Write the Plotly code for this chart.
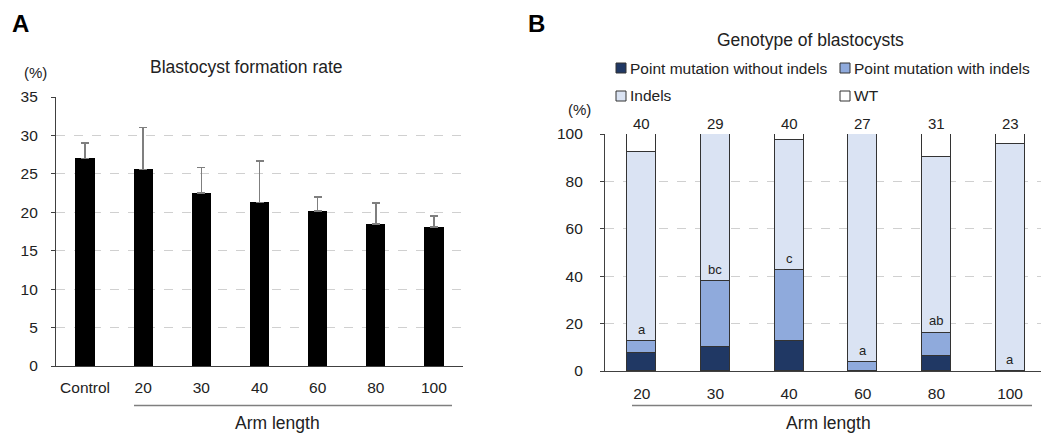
import plotly.graph_objects as go

# ---------------- Data ----------------
# Panel A
a_categories = ["Control", "20", "30", "40", "60", "80", "100"]
a_rate = [27.0, 25.6, 22.5, 21.3, 20.2, 18.5, 18.1]
a_err_upper = [2.0, 5.4, 3.3, 5.4, 1.8, 2.7, 1.4]

# Panel B
b_categories = ["20", "30", "40", "60", "80", "100"]
b_n = [40, 29, 40, 27, 31, 23]
pm_without = [7.5, 10.3, 12.5, 0.0, 6.5, 0.0]
pm_with = [5.0, 27.6, 30.0, 3.7, 9.7, 0.0]
indels = [80.0, 62.1, 55.0, 96.3, 74.1, 95.7]
wt = [7.5, 0.0, 2.5, 0.0, 9.7, 4.3]
b_letters = ["a", "bc", "c", "a", "ab", "a"]

series_names = ["Point mutation without indels", "Point mutation with indels", "Indels", "WT"]
series_colors = ["#203864", "#8faadc", "#dae3f3", "#ffffff"]

FONT = "Liberation Sans, Arial, sans-serif"
TXT = "#222222"
W, H = 1041, 433

def px(x):
    return x / W

def py(y):
    return (H - y) / H

fig = go.Figure()

# Panel A bars
fig.add_trace(go.Bar(
    x=a_categories, y=a_rate, xaxis="x", yaxis="y",
    marker=dict(color="#000000", line=dict(width=0)),
    width=0.33,
    error_y=dict(type="data", symmetric=False, array=a_err_upper,
                 arrayminus=[0] * len(a_rate), color="#7f7f7f",
                 thickness=1.5, width=4),
    showlegend=False,
))

# Panel B stacked bars
series_vals = [pm_without, pm_with, indels, wt]
for name, vals, col in zip(series_names, series_vals, series_colors):
    fig.add_trace(go.Bar(
        x=b_categories, y=vals, name=name, xaxis="x2", yaxis="y2",
        marker=dict(color=col, line=dict(color="#333333", width=1)),
        width=0.394, showlegend=False,
    ))

annotations = []
# n labels above bars (category index positions)
for i, n in enumerate(b_n):
    annotations.append(dict(x=i, y=100, xref="x2", yref="y2", text=str(n),
                            showarrow=False, yanchor="middle", yshift=10,
                            font=dict(size=15, color=TXT, family=FONT)))
# letters
for i, (lo, mid, l) in enumerate(zip(pm_without, pm_with, b_letters)):
    annotations.append(dict(x=i, y=lo + mid, xref="x2", yref="y2", text=l,
                            showarrow=False, yanchor="middle", yshift=12,
                            font=dict(size=13, color=TXT, family=FONT)))

def txt(x, y, t, size, bold=False, xanchor="center"):
    return dict(x=px(x), y=py(y), xref="paper", yref="paper",
                text=("<b>%s</b>" % t) if bold else t, showarrow=False,
                xanchor=xanchor, yanchor="middle",
                font=dict(size=size, color="#000000" if bold else TXT, family=FONT))

annotations += [
    txt(20.5, 24, "A", 24, bold=True),
    txt(536, 24, "B", 24, bold=True),
    txt(246, 67, "Blastocyst formation rate", 17.5),
    txt(810, 40, "Genotype of blastocysts", 17.5),
    txt(35, 73, "(%)", 15),
    txt(579, 109, "(%)", 15),
    txt(277, 423, "Arm length", 17.5),
    txt(828, 423, "Arm length", 17.5),
]

shapes = [
    dict(type="line", xref="paper", yref="paper", x0=px(134), x1=px(452),
         y0=py(405.5), y1=py(405.5), line=dict(color="#7f7f7f", width=1.5)),
    dict(type="line", xref="paper", yref="paper", x0=px(632), x1=px(1032),
         y0=py(405.5), y1=py(405.5), line=dict(color="#7f7f7f", width=1.5)),
]

# Legend (drawn as key squares + labels)
legend_pos = [(616, 68), (840, 68), (616, 96), (840, 96)]
for (lx, ly), name, col in zip(legend_pos, series_names, series_colors):
    shapes.append(dict(type="rect", xref="paper", yref="paper",
                       x0=px(lx), x1=px(lx + 10), y0=py(ly + 5), y1=py(ly - 5),
                       fillcolor=col, line=dict(color="#333333", width=1)))
    annotations.append(dict(x=px(lx + 12), y=py(ly), xref="paper", yref="paper",
                            text=name, showarrow=False, xanchor="left", yanchor="middle",
                            font=dict(size=15.5, color=TXT, family=FONT)))

axis_common = dict(showline=True, linecolor="#404040", linewidth=1.2,
                   zeroline=False, automargin=False,
                   tickfont=dict(size=15.5, color=TXT, family=FONT))

fig.update_layout(
    width=W, height=H, autosize=False,
    margin=dict(l=0, r=0, t=0, b=0, pad=0, autoexpand=False),
    paper_bgcolor="#ffffff", plot_bgcolor="#ffffff",
    barmode="stack", bargap=0, showlegend=False,
    font=dict(family=FONT, color=TXT),
    xaxis=dict(domain=[px(56), px(463)], anchor="y", type="category",
               categoryorder="array", categoryarray=a_categories,
               range=[-0.5, 6.5], ticks="", ticklabelstandoff=7, **axis_common),
    yaxis=dict(domain=[py(366), py(97)], anchor="x", range=[0, 35], dtick=5,
               ticks="outside", ticklen=4, tickcolor="#404040",
               ticklabelstandoff=10,
               showgrid=True, gridcolor="#d0d0d0", griddash="dash", gridwidth=1,
               **axis_common),
    xaxis2=dict(domain=[px(605), 1.0], anchor="y2", type="category",
                categoryorder="array", categoryarray=b_categories,
                range=[-0.5, 5.42], ticks="", ticklabelstandoff=8, **axis_common),
    yaxis2=dict(domain=[py(371), py(134)], anchor="x2", range=[0, 100], dtick=20,
                ticks="outside", ticklen=4, tickcolor="#404040",
                ticklabelstandoff=14,
                showgrid=True, gridcolor="#d0d0d0", griddash="dash", gridwidth=1,
                **axis_common),
    annotations=annotations,
    shapes=shapes,
)

fig.write_html("out.html", config={"displayModeBar": False},
               post_script="document.body.style.margin='0';")
